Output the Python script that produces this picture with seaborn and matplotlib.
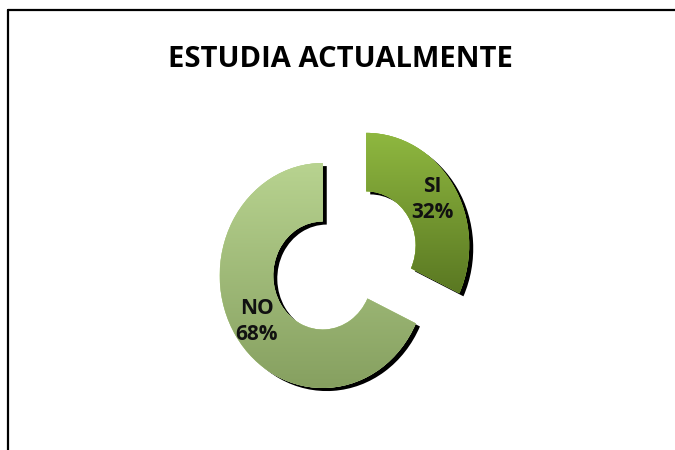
import numpy as np
import matplotlib
matplotlib.use("Agg")
import matplotlib.pyplot as plt
import matplotlib.patheffects as pe
from matplotlib.lines import Line2D
import seaborn as sns

# Data
categories = ["SI", "NO"]
values = [32, 68]
explode = [0.5, 0.0]
top_colors = ["#8fb840", "#b8d390"]
bottom_colors = ["#5a7822", "#86a060"]
title = "ESTUDIA ACTUALMENTE"

sns.set_theme(style="white")
plt.rcParams["font.family"] = ["Open Sans", "DejaVu Sans"]

fig = plt.figure(figsize=(6.75, 4.5), dpi=100)
ax = fig.add_axes([0, 0, 1, 1])

wedges, _ = ax.pie(values, startangle=90, counterclock=False, explode=explode,
                   radius=1, wedgeprops=dict(width=0.52, linewidth=0, edgecolor="none"))

shadow = [pe.withSimplePatchShadow(offset=(2.9, -2.2), shadow_rgbFace="black", alpha=1.0),
          pe.Normal()]

for w, c_top, c_bot, lab, val in zip(wedges, top_colors, bottom_colors, categories, values):
    w.set_facecolor(c_top)
    w.set_path_effects(shadow)
    # vertical gradient clipped to the wedge
    ext = w.get_path().get_extents()
    cmap = sns.blend_palette([c_top, c_bot], n_colors=256, as_cmap=True)
    grad = np.linspace(0, 1, 256).reshape(-1, 1)
    im = ax.imshow(grad, cmap=cmap, aspect="auto", origin="upper",
                   extent=[ext.x0, ext.x1, ext.y0, ext.y1], zorder=w.get_zorder() + 0.1)
    im.set_clip_path(w)
    # label
    mid = np.deg2rad((w.theta1 + w.theta2) / 2)
    cx, cy = w.center
    r = 0.76
    ax.text(cx + r * np.cos(mid), cy + r * np.sin(mid), f"{lab}\n{val}%",
            ha="center", va="center", fontsize=15, fontweight="bold",
            color="#111111", linespacing=1.3, zorder=5)

ax.set_xlim(-3.133, 3.420)
ax.set_ylim(-1.551, 2.449)
ax.set_aspect("auto")
ax.axis("off")

fig.text(340 / 675, 1 - 59 / 450, title, ha="center", va="center",
         fontsize=21, fontweight="bold", color="black")

# frame lines (top and left)
fig.add_artist(Line2D([8 / 675, 1], [1 - 10 / 450, 1 - 10 / 450], color="black", lw=1.6))
fig.add_artist(Line2D([8 / 675, 8 / 675], [0, 1 - 10 / 450], color="black", lw=1.6))

fig.savefig("out.png", dpi=100)
